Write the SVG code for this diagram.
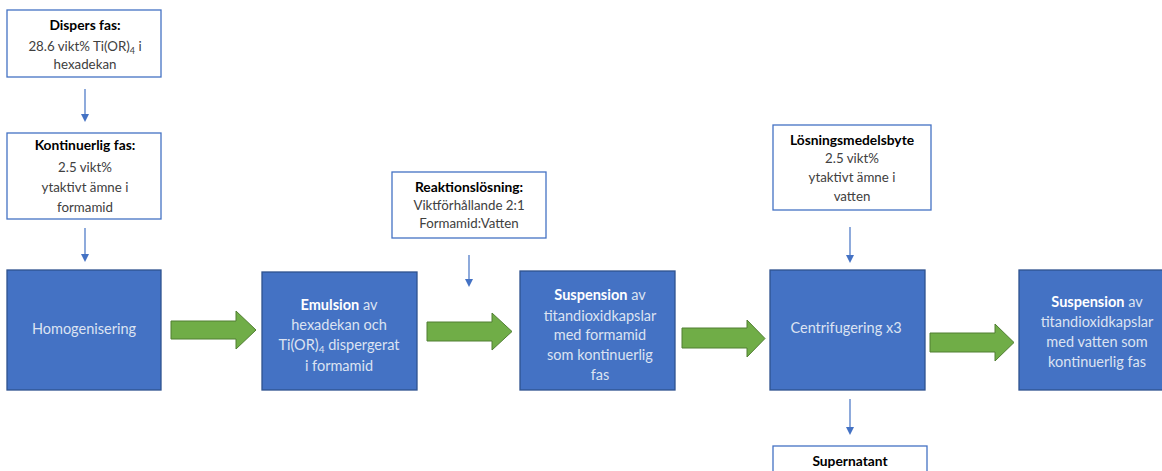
<svg xmlns="http://www.w3.org/2000/svg" width="1162" height="471" viewBox="0 0 1162 471">
<defs>
<style>
.wb{fill:#fff;stroke:#4472C4;stroke-width:1.3}
.bb{fill:#4472C4;stroke:#2F528F;stroke-width:1.3}
.ga{fill:#70AD47;stroke:#507E32;stroke-width:1}
.cn{stroke:#4472C4;stroke-width:1.2;fill:none}
.ah{fill:#4472C4}
text{font-family:Lato,"Open Sans","Liberation Sans",sans-serif;text-anchor:middle}
.wt{font-size:13.3px;fill:#404040}
.wh{font-size:13.8px;fill:#000;font-weight:bold}
.bt{font-size:14.5px;fill:#DCE3F2}
.bh{font-weight:bold;fill:#fff}
</style>
</defs>
<rect width="1162" height="471" fill="#fff"/>

<g id="connectors">
<line class="cn" x1="85" y1="89" x2="85" y2="114"/>
<path class="ah" d="M81,114 L89,114 L85,122 Z"/>
<line class="cn" x1="85" y1="228" x2="85" y2="254"/>
<path class="ah" d="M81,254 L89,254 L85,262 Z"/>
<line class="cn" x1="469" y1="255" x2="469" y2="279"/>
<path class="ah" d="M465,279 L473,279 L469,287 Z"/>
<line class="cn" x1="850" y1="227" x2="850" y2="255"/>
<path class="ah" d="M846,255 L854,255 L850,263 Z"/>
<line class="cn" x1="850" y1="399" x2="850" y2="427"/>
<path class="ah" d="M846,427 L854,427 L850,435 Z"/>
<path class="ga" d="M171,321 L236,321 L236,311 L256,330 L236,349 L236,339 L171,339 Z"/>
<path class="ga" d="M427,322 L492,322 L492,313 L512,331.5 L492,350 L492,341 L427,341 Z"/>
<path class="ga" d="M682,328 L747,328 L747,320 L765,338.5 L747,357 L747,348 L682,348 Z"/>
<path class="ga" d="M930,333 L995,333 L995,324 L1014,342.5 L995,361 L995,352 L930,352 Z"/>
</g>

<g id="dispers">
<rect class="wb" x="7" y="10" width="154" height="67"/>
<text class="wh" x="85" y="30">Dispers fas:</text>
<text class="wt" x="85" y="51">28.6 vikt% Ti(OR)<tspan font-size="9" dy="3">4</tspan><tspan dy="-3"> i</tspan></text>
<text class="wt" x="85" y="69">hexadekan</text>
</g>

<g id="kontinuerlig">
<rect class="wb" x="7" y="133" width="154" height="86"/>
<text class="wh" x="85" y="150">Kontinuerlig fas:</text>
<text class="wt" x="85" y="172">2.5 vikt%</text>
<text class="wt" x="85" y="192">ytaktivt ämne i</text>
<text class="wt" x="85" y="212">formamid</text>
</g>

<g id="homogenisering">
<rect class="bb" x="7" y="270" width="154" height="120"/>
<text class="bt" x="84" y="334">Homogenisering</text>
</g>

<g id="emulsion">
<rect class="bb" x="262" y="272" width="155" height="118"/>
<text class="bt" x="339" y="310"><tspan class="bh">Emulsion</tspan> av</text>
<text class="bt" x="339" y="330">hexadekan och</text>
<text class="bt" x="339" y="350">Ti(OR)<tspan font-size="10" dy="3">4</tspan><tspan dy="-3"> dispergerat</tspan></text>
<text class="bt" x="339" y="371">i formamid</text>
</g>

<g id="reaktion">
<rect class="wb" x="392" y="172" width="154" height="66"/>
<text class="wh" x="469" y="192">Reaktionslösning:</text>
<text class="wt" x="469" y="210">Viktförhållande 2:1</text>
<text class="wt" x="469" y="228">Formamid:Vatten</text>
</g>

<g id="suspension1">
<rect class="bb" x="520" y="271" width="155" height="119"/>
<text class="bt" x="600" y="300"><tspan class="bh">Suspension</tspan> av</text>
<text class="bt" x="600" y="321">titandioxidkapslar</text>
<text class="bt" x="600" y="340">med formamid</text>
<text class="bt" x="600" y="360">som kontinuerlig</text>
<text class="bt" x="600" y="380">fas</text>
</g>

<g id="losningsmedel">
<rect class="wb" x="773" y="125" width="158" height="85"/>
<text class="wh" x="852" y="145">Lösningsmedelsbyte</text>
<text class="wt" x="852" y="163">2.5 vikt%</text>
<text class="wt" x="852" y="182">ytaktivt ämne i</text>
<text class="wt" x="852" y="201">vatten</text>
</g>

<g id="centrifugering">
<rect class="bb" x="770" y="270" width="155" height="120"/>
<text class="bt" x="846" y="333">Centrifugering x3</text>
</g>

<g id="suspension2">
<rect class="bb" x="1019" y="270" width="155" height="120"/>
<text class="bt" x="1097" y="307"><tspan class="bh">Suspension</tspan> av</text>
<text class="bt" x="1097" y="327">titandioxidkapslar</text>
<text class="bt" x="1097" y="347">med vatten som</text>
<text class="bt" x="1097" y="367">kontinuerlig fas</text>
</g>

<g id="supernatant">
<rect class="wb" x="773" y="446" width="154" height="40"/>
<text class="wh" x="850" y="466">Supernatant</text>
</g>
</svg>
